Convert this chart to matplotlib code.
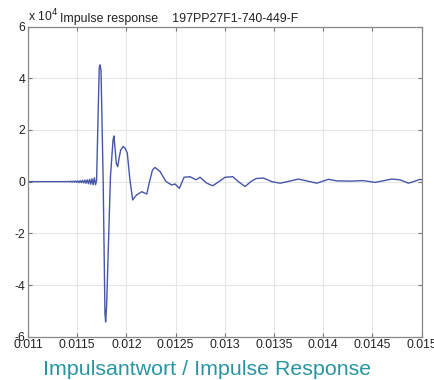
import matplotlib
matplotlib.use("Agg")
import matplotlib.pyplot as plt

# time (s) and amplitude (x 10^4)
time_s = [0.011, 0.0114,
          0.01141, 0.011422, 0.011434, 0.011446, 0.011458, 0.01147, 0.011482, 0.011494,
          0.011506, 0.011518, 0.01153, 0.011542, 0.011554, 0.011566, 0.011578, 0.01159,
          0.011602, 0.011614, 0.011626, 0.011638, 0.01165, 0.011662, 0.011674, 0.011686,
          0.011697, 0.011715, 0.011724, 0.011732, 0.011742, 0.011764, 0.011782, 0.011789,
          0.011799, 0.011838, 0.011864, 0.011873, 0.011882, 0.011898, 0.011912, 0.011925,
          0.011942, 0.011966, 0.011986, 0.012009, 0.012035, 0.012064, 0.012085, 0.012105,
          0.012156, 0.012207, 0.012235, 0.012265, 0.012291, 0.012342, 0.012403, 0.012461,
          0.012494, 0.012538, 0.012586, 0.012647, 0.012708, 0.012748, 0.012817, 0.012878,
          0.012924, 0.013003, 0.013081, 0.013138, 0.013206, 0.013264, 0.013318, 0.013392,
          0.013477, 0.013562, 0.013612, 0.013748, 0.013935, 0.014053, 0.014138, 0.014273,
          0.014408, 0.014527, 0.014697, 0.014781, 0.014866, 0.014917, 0.014985, 0.015]
amplitude = [0.0, 0.0,
             0.01, -0.01, 0.02, -0.02, 0.02, -0.02, 0.03, -0.03,
             0.03, -0.04, 0.04, -0.04, 0.05, -0.05, 0.06, -0.06,
             0.07, -0.08, 0.09, -0.1, 0.11, -0.12, 0.15, -0.12,
             0.05, 3.0, 4.4, 4.52, 4.3, 0.0, -5.1, -5.43,
             -4.8, 0.2, 1.6, 1.77, 1.4, 0.7, 0.58, 0.9,
             1.22, 1.36, 1.3, 1.11, 0.1, -0.71, -0.6, -0.51,
             -0.39, -0.48, 0.0, 0.45, 0.55, 0.39, 0.0, -0.13,
             -0.09, -0.26, 0.17, 0.19, 0.07, 0.17, -0.06, -0.16,
             -0.04, 0.17, 0.19, 0.0, -0.19, 0.0, 0.12, 0.14,
             0.0, -0.06, -0.02, 0.1, -0.06, 0.09, 0.03, 0.02,
             0.04, -0.03, 0.1, 0.07, -0.06, 0.0, 0.09, 0.07]

x_ticks = [0.011, 0.0115, 0.012, 0.0125, 0.013, 0.0135, 0.014, 0.0145, 0.015]
x_labels = ["0.011", "0.0115", "0.012", "0.0125", "0.013", "0.0135", "0.014", "0.0145", "0.015"]
y_ticks = [-6, -4, -2, 0, 2, 4, 6]

title = "Impulse response    197PP27F1-740-449-F"
caption = "Impulsantwort / Impulse Response"

plt.rcParams['font.family'] = ['Liberation Sans', 'DejaVu Sans']

fig = plt.figure(figsize=(4.34, 3.8), dpi=100)
ax = fig.add_axes([0.0645, 0.114, 0.907, 0.816])
ax.plot(time_s, amplitude, color='#4756a8', lw=1.0)
ax.set_xlim(0.011, 0.015)
ax.set_ylim(-6, 6)
ax.set_xticks(x_ticks)
ax.set_xticklabels(x_labels)
ax.set_yticks(y_ticks)
ax.set_yticklabels([str(v) for v in y_ticks])
ax.grid(True, color='#e6e6e6', lw=0.8)
ax.tick_params(direction='in', length=3, width=0.8, color='#777777', labelsize=8.8,
               top=True, right=True, pad=2, labelcolor='#222222')
for s in ax.spines.values():
    s.set_color('#888888')
    s.set_linewidth(0.9)

fig.text(0.064, 0.935, r"x 10$^4$", fontsize=8.8, color='#222222', ha='left', va='bottom')
fig.text(0.138, 0.935, title, fontsize=8.9, color='#222222', ha='left', va='bottom')
fig.text(0.478, 0.027, caption, fontsize=15.4, color='#2896a1', ha='center', va='center',
         family=['Liberation Sans', 'DejaVu Sans'])

fig.savefig("out.png", dpi=100)
